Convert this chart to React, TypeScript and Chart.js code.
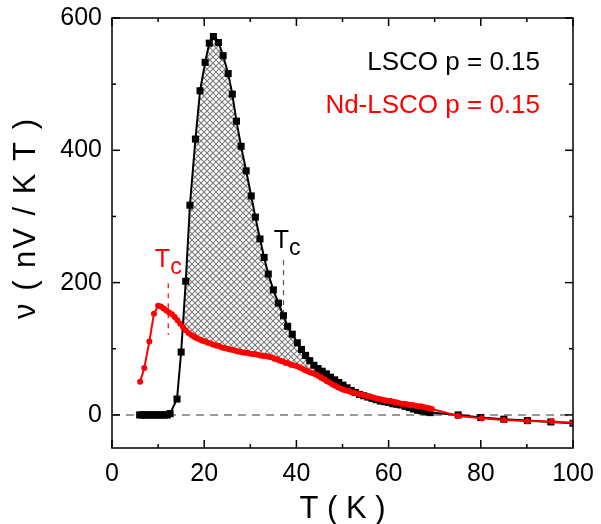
import React, { useEffect, useRef } from "react";
import { Chart, registerables } from "chart.js";

Chart.register(...registerables);

const FONT = "'Liberation Sans', Arial, Helvetica, sans-serif";

// LSCO p = 0.15 (black squares)
const lscoT = [
  6.0, 6.5, 7.0, 7.5, 8.0, 8.5, 9.0, 9.5, 10.0, 10.5, 11.0, 11.5, 12.0, 12.6,
  14.1, 15.0, 16.0, 16.9, 18.1, 19.1, 20.2, 21.1, 22.0, 23.1, 24.1, 25.2, 26.1,
  27.0, 28.0, 29.1, 30.2, 31.1, 32.1, 33.0, 33.9, 35.0, 36.1, 37.2, 38.1, 39.1,
  40.2, 41.1, 42.0, 42.9, 43.8, 44.7, 45.6, 46.5, 47.4, 48.3, 49.2, 50.1, 51.0,
  51.9, 52.8, 53.7, 54.6, 55.5, 56.4, 57.3, 58.2, 59.1, 60.0, 60.9, 61.8, 62.7,
  63.6, 64.5, 65.4, 66.3, 67.2, 68.1, 69.0, 75.1, 80.0, 85.0, 90.1, 95.2, 100.0,
];
const lscoV = [
  0, 0, 0, 0, 0, 0, 0, 0, 0, 0, 0, 0, 0, 2,
  24, 95, 202, 317, 417, 490, 533, 562, 572, 563, 543, 516, 485,
  444, 406, 369, 331, 299, 266, 238, 213, 189, 169, 150, 134, 122,
  109, 99, 90, 82, 75, 70, 66, 62, 57, 53, 49, 45, 41,
  37, 34, 31, 29, 27, 25, 23, 21, 20, 19, 17, 16, 15,
  13, 11, 9, 7, 6, 5, 3.5, 0, -4, -6.5, -8.6, -10.6, -12.6,
];

// Nd-LSCO p = 0.15 (red circles)
const ndT = [
  6.1, 7.0, 8.1, 9.1, 10.0, 10.6, 11.2, 11.8, 12.4, 13.0, 13.6, 14.2, 14.8,
  15.4, 16.0, 16.6, 17.2, 17.8, 18.4, 19.0, 19.6, 20.2, 20.8, 21.4, 22.0, 22.6,
  23.2, 23.8, 24.4, 25.0, 25.6, 26.2, 26.8, 27.4, 28.0, 28.6, 29.2, 29.8, 30.4,
  31.0, 31.6, 32.2, 32.8, 33.4, 34.0, 34.6, 35.2, 35.8, 36.4, 37.0, 37.6, 38.2,
  38.8, 39.4, 40.0, 40.6, 41.2, 41.8, 42.4, 43.0, 43.6, 44.2, 44.8, 45.4, 46.0,
  46.6, 47.2, 47.8, 48.4, 49.0, 49.6, 50.2, 50.8, 51.4, 52.0, 52.6, 53.2, 53.8,
  54.4, 55.0, 55.6, 56.2, 56.8, 57.4, 58.0, 58.6, 59.2, 59.8, 60.4, 61.0, 61.6,
  62.2, 62.8, 63.4, 64.0, 64.6, 65.2, 65.8, 66.4, 67.0, 67.6, 68.2, 68.8, 69.4,
  75.1, 80.2, 85.0, 90.1, 95.4, 100.0,
];
const ndV = [
  50, 71, 111, 153, 165, 164, 161, 158, 155, 152, 148, 143, 138,
  133, 128, 124, 121, 118, 116, 114, 112, 111, 109, 108, 106, 105,
  104, 102, 101, 100, 99, 98, 97, 96, 95, 94, 94, 93, 92,
  92, 91, 90, 89, 89, 88, 87, 85, 84, 82, 81, 79, 78,
  76, 75, 74, 72, 70, 68, 66, 64, 63, 61, 59, 56, 54,
  51, 49, 46, 44, 42, 40, 38, 37, 36, 34, 33, 32, 31,
  30, 29, 28, 27, 26, 25, 24, 23, 22, 21, 21, 20, 19,
  18, 17, 17, 16, 15, 15, 14, 13, 13, 12, 11, 10, 9,
  -1.5, -5, -7.5, -9, -10, -12,
];

const xMajorTicks = [0, 20, 40, 60, 80, 100];
const xMinorTicks = [10, 30, 50, 70, 90];
const yMajorTicks = [0, 200, 400, 600];
const yMinorTicks = [100, 300, 500];

const labelLsco = "LSCO p = 0.15";
const labelNd = "Nd-LSCO p = 0.15";
const xTitle = "T ( K )";
const yTitle = "ν ( nV / K T )";

// Tc markers: dashed line at T from value `from` to `to`; label anchored at (labelT, labelV)
const tcNd = { T: 12.2, from: 121, to: 199, labelT: 9.3, labelV: 224, color: "#ff0000" };
const tcLsco = { T: 37.2, from: 155, to: 234, labelT: 35.1, labelV: 252, color: "#000000" };

function makeHatch(): CanvasPattern | string {
  const c = document.createElement("canvas");
  c.width = 6;
  c.height = 6;
  const g = c.getContext("2d");
  if (!g) return "#aaa";
  g.strokeStyle = "#7a7a7a";
  g.lineWidth = 1.1;
  g.beginPath();
  g.moveTo(-1, -1);
  g.lineTo(7, 7);
  g.moveTo(-1, 7);
  g.lineTo(7, -1);
  g.stroke();
  const p = g.createPattern(c, "repeat");
  return p || "#aaa";
}

const decor = {
  id: "decor",
  beforeDatasetsDraw(chart: any) {
    const { ctx, chartArea: a, scales } = chart;
    const y0 = scales.y.getPixelForValue(0);
    ctx.save();
    ctx.strokeStyle = "#777";
    ctx.lineWidth = 1.5;
    ctx.setLineDash([8, 6]);
    ctx.beginPath();
    ctx.moveTo(a.left, y0);
    ctx.lineTo(a.right, y0);
    ctx.stroke();
    ctx.restore();
  },
  afterDatasetsDraw(chart: any) {
    const { ctx, chartArea: a, scales } = chart;
    const xs = scales.x;
    const ys = scales.y;
    ctx.save();
    // frame
    ctx.strokeStyle = "#000";
    ctx.lineWidth = 1.5;
    ctx.setLineDash([]);
    ctx.strokeRect(a.left, a.top, a.right - a.left, a.bottom - a.top);
    const line = (x1: number, y1: number, x2: number, y2: number) => {
      ctx.beginPath();
      ctx.moveTo(x1, y1);
      ctx.lineTo(x2, y2);
      ctx.stroke();
    };
    const tick = (len: number, vals: number[], horiz: boolean) => {
      for (const v of vals) {
        if (horiz) {
          const px = xs.getPixelForValue(v);
          line(px, a.bottom, px, a.bottom - len);
          line(px, a.top, px, a.top + len);
        } else {
          const py = ys.getPixelForValue(v);
          line(a.left, py, a.left + len, py);
          line(a.right, py, a.right - len, py);
        }
      }
    };
    tick(8, xMajorTicks, true);
    tick(4, xMinorTicks, true);
    tick(8, yMajorTicks, false);
    tick(4, yMinorTicks, false);

    // Tc markers
    for (const tc of [tcNd, tcLsco]) {
      const px = xs.getPixelForValue(tc.T);
      ctx.strokeStyle = tc.color === "#000000" ? "#555" : tc.color;
      ctx.lineWidth = 1.2;
      ctx.setLineDash([5, 5]);
      line(px, ys.getPixelForValue(tc.to), px, ys.getPixelForValue(tc.from));
      ctx.setLineDash([]);
      const lx = xs.getPixelForValue(tc.labelT);
      const ly = ys.getPixelForValue(tc.labelV);
      ctx.fillStyle = tc.color;
      ctx.textAlign = "left";
      ctx.textBaseline = "alphabetic";
      ctx.font = `25px ${FONT}`;
      ctx.fillText("T", lx, ly);
      const w = ctx.measureText("T").width;
      ctx.font = `23px ${FONT}`;
      ctx.fillText("c", lx + w, ly + 7);
    }

    // legend texts
    ctx.font = `26px ${FONT}`;
    ctx.textAlign = "right";
    ctx.textBaseline = "alphabetic";
    ctx.fillStyle = "#000";
    ctx.fillText(labelLsco, 540, 70);
    ctx.fillStyle = "#ff0000";
    ctx.fillText(labelNd, 540, 113);

    // axis titles
    ctx.fillStyle = "#000";
    ctx.font = `31px ${FONT}`;
    ctx.textAlign = "center";
    ctx.fillText(xTitle, (a.left + a.right) / 2, 518);
    ctx.translate(35, 218);
    ctx.rotate(-Math.PI / 2);
    try {
      (ctx as any).letterSpacing = "2px";
    } catch (e) {}
    ctx.fillText(yTitle, 0, 0);
    ctx.restore();
  },
};

export default function App() {
  const ref = useRef<HTMLCanvasElement | null>(null);
  useEffect(() => {
    const canvas = ref.current;
    if (!canvas) return;
    const hatch = makeHatch();
    const chart = new Chart(canvas, {
      type: "line",
      data: {
        datasets: [
          {
            label: labelNd,
            data: ndT.map((t, i) => ({ x: t, y: ndV[i] })),
            borderColor: "#ff0000",
            backgroundColor: "#ff0000",
            pointBackgroundColor: "#ff0000",
            borderWidth: 2,
            pointRadius: 3,
            pointBorderWidth: 0,
            pointStyle: "circle",
            fill: false,
            tension: 0,
          },
          {
            label: labelLsco,
            data: lscoT.map((t, i) => ({ x: t, y: lscoV[i] })),
            borderColor: "#000000",
            backgroundColor: "#000000",
            pointBackgroundColor: "#000000",
            borderWidth: 2,
            pointRadius: 5,
            pointBorderWidth: 0,
            pointStyle: "rect",
            fill: { target: 0, above: hatch, below: "rgba(0,0,0,0)" },
            tension: 0,
          },
        ],
      } as any,
      options: {
        animation: false,
        responsive: false,
        devicePixelRatio: 1,
        layout: { padding: { top: 18, right: 28, left: 0, bottom: 0 } },
        plugins: { legend: { display: false }, tooltip: { enabled: false } },
        scales: {
          x: {
            type: "linear",
            min: 0,
            max: 100,
            afterFit: (s: any) => {
              s.height = 76;
              s.paddingLeft = 0;
              s.paddingRight = 0;
            },
            afterBuildTicks: (s: any) => {
              s.ticks = xMajorTicks.map((v) => ({ value: v }));
            },
            grid: { display: false, drawTicks: false },
            border: { display: false },
            ticks: {
              font: { family: FONT, size: 25 },
              color: "#000",
              padding: 11,
              maxRotation: 0,
              autoSkip: false,
            },
          },
          y: {
            type: "linear",
            min: -50,
            max: 600,
            afterFit: (s: any) => {
              s.width = 112;
              s.paddingTop = 0;
              s.paddingBottom = 0;
            },
            afterBuildTicks: (s: any) => {
              s.ticks = yMajorTicks.map((v) => ({ value: v }));
            },
            grid: { display: false, drawTicks: false },
            border: { display: false },
            ticks: {
              font: { family: FONT, size: 25 },
              color: "#000",
              padding: 10,
              autoSkip: false,
            },
          },
        },
      } as any,
      plugins: [decor],
    });
    return () => chart.destroy();
  }, []);
  return (
    <div style={{ position: "absolute", left: 0, top: 0, width: 601, height: 524 }}>
      <canvas ref={ref} width={601} height={524} style={{ display: "block" }} />
    </div>
  );
}
